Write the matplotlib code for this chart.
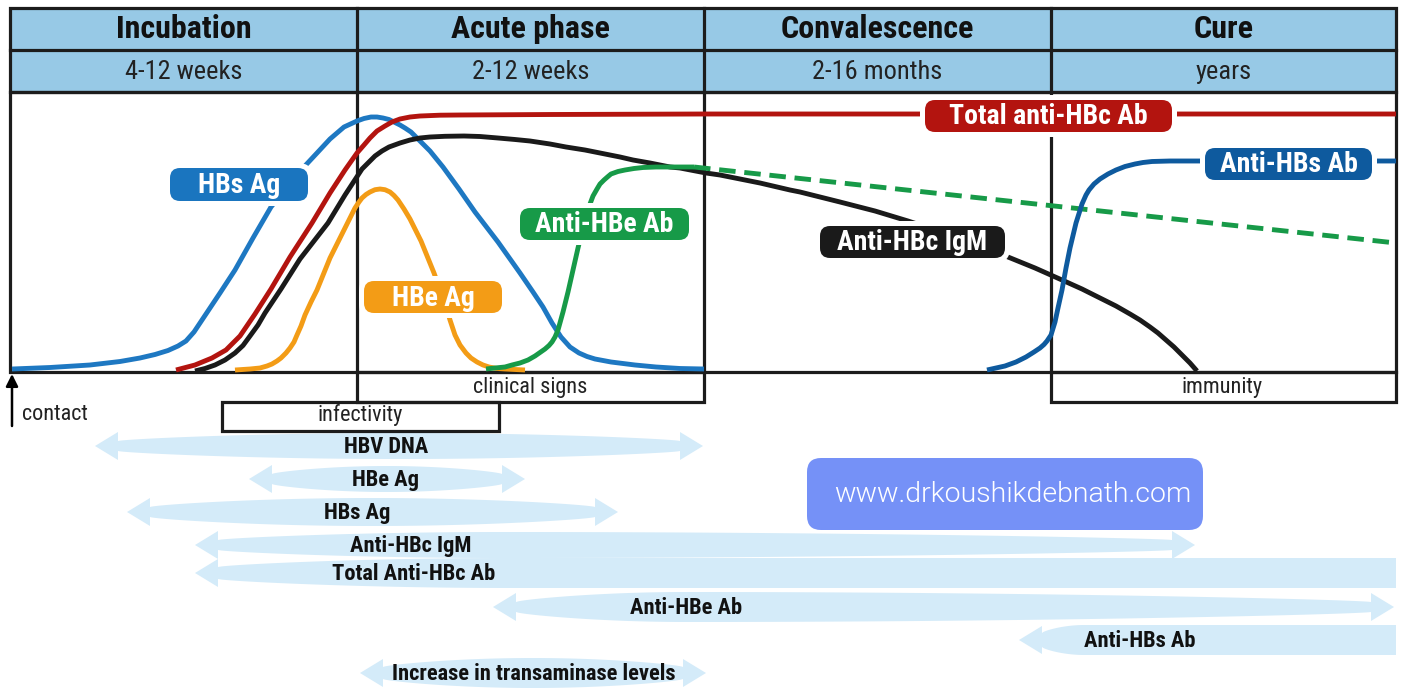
import numpy as np
import matplotlib
matplotlib.use("Agg")
import matplotlib.pyplot as plt
from matplotlib.patches import FancyBboxPatch, Polygon, Rectangle

# ---------------- data ----------------
phases = ["Incubation", "Acute phase", "Convalescence", "Cure"]
durations = ["4-12 weeks", "2-12 weeks", "2-16 months", "years"]

# marker curves: time position (px along the time axis) and level above baseline
hbsag_t = [12, 50, 90, 120, 140, 155, 168, 178, 186, 194, 204, 220, 235, 253, 271, 287, 303, 317, 330, 344, 357,
           364, 371, 377, 383, 389, 394, 400, 405, 411, 416, 423, 430, 443, 459, 475, 498, 520, 533, 543, 552,
           561, 570, 579, 587, 595, 611, 635, 656, 680, 704]
hbsag_v = [3, 4.5, 7, 10.5, 14, 17.5, 21.5, 26, 31, 40, 55, 79, 102, 134, 165, 185, 204, 219, 233, 245, 251,
           253.5, 255, 255, 254, 252.5, 250, 247, 244, 240, 235, 228, 221, 205, 183, 160, 130, 99, 80, 65, 49,
           35, 25, 19, 15.5, 13, 10, 7, 5, 3.5, 3]

total_hbc_t = [176, 195, 212, 226, 240, 255, 271, 290, 312, 330, 345, 357, 364, 370, 377, 385, 392, 400, 410, 420,
               440, 460, 550, 704, 1396]
total_hbc_v = [2, 7, 14, 22, 36, 58, 83, 115, 149, 179, 202, 219, 227, 234, 241, 246, 250, 253, 255, 256,
               256.8, 257, 257.5, 258, 258]

igm_t = [195, 205, 215, 225, 235, 243, 250, 258, 265, 281, 300, 328, 345, 362, 369, 375, 382, 389, 400, 410, 420,
         430, 445, 464, 480, 498, 515, 530, 550, 566, 585, 600, 620, 633, 650, 670, 680, 706, 720, 750, 760,
         790, 800, 840, 875, 908, 960, 1008, 1035, 1062, 1082, 1100, 1116, 1130, 1140, 1150, 1158, 1166, 1174,
         1182, 1190, 1197]
igm_v = [1, 3.5, 7, 12, 19, 26.5, 36, 47, 59, 83, 113, 149, 177, 203, 210, 216, 221, 225, 229, 232, 234,
         235, 235.7, 236, 235.5, 234, 232.5, 231, 228, 225, 222, 219, 215, 212, 209, 205, 204, 199, 197, 191,
         189, 182, 180, 170, 161, 151, 134, 115, 104, 92, 83, 74, 66, 58, 52, 45, 39, 32, 25, 17, 9, 1]

antihbe_t = [486, 495, 505, 512, 520, 528, 535, 540, 545, 549, 552, 555, 558, 563, 568, 573, 578, 584, 590, 593,
             597, 600, 604, 608, 611, 618, 625, 634, 643, 656, 670, 694]
antihbe_v = [3, 4, 5, 7, 9, 12, 16, 19.5, 23, 26.5, 30, 35, 42, 60, 80, 102, 124, 148, 168, 176,
             183, 188, 192, 195.5, 198, 200.5, 202, 203.5, 204.5, 205, 205, 205]
antihbe_late_t = [694, 1396]
antihbe_late_v = [205, 129]

hbeag_t = [235, 250, 260, 267, 272, 277, 281, 286, 290, 294, 297, 301, 305, 311, 317, 330, 344, 355, 359, 362,
           366, 370, 375, 380, 385, 390, 394, 398, 404, 410, 421, 434, 445, 450, 455, 460, 466, 471, 477,
           483, 489, 497, 505, 525]
hbeag_v = [2, 3, 4, 6, 8, 11, 14, 19, 24, 30, 37, 46, 57, 70, 82, 114, 142, 164, 170, 174,
           177.5, 180, 182.3, 183, 182.3, 180, 176.5, 172, 163, 153, 131, 99, 69, 52, 37, 27, 19, 14, 10,
           7, 5, 3.5, 3, 2]

antihbs_t = [987, 996, 1005, 1016, 1026, 1034, 1040, 1044, 1047, 1051, 1055, 1058, 1062, 1066, 1070, 1076, 1082,
             1086, 1089, 1094, 1100, 1108, 1116, 1125, 1135, 1143, 1152, 1170, 1200, 1396]
antihbs_v = [2, 4, 6, 10, 15, 20, 24, 27.5, 31, 37, 50, 64, 82, 104, 124, 149, 168, 177, 182, 188, 193, 198,
             202, 205.5, 208, 209.5, 210.5, 211, 211, 211]

# detection windows (start, end along time axis)
window_names = ["HBV DNA", "HBe Ag", "HBs Ag", "Anti-HBc IgM", "Total Anti-HBc Ab", "Anti-HBe Ab",
                "Anti-HBs Ab", "Increase in transaminase levels"]
window_start = [95, 249, 127, 195, 195, 493, 1019, 360]
window_end = [703, 525, 618, 1195, 1396, 1394, 1396, 706]
window_label_x = [386, 385, 357, 411, 414, 686, 1140, 534]

# ---------------- fonts ----------------
NARROW = ["Roboto Condensed", "DejaVu Sans"]
plt.rcParams["font.family"] = NARROW

# ---------------- figure ----------------
fig = plt.figure(figsize=(14.04, 6.98), dpi=100)
ax = fig.add_axes([0, 0, 1, 1])
ax.set_xlim(0, 1404)
ax.set_ylim(698, 0)
ax.axis("off")

FRAME = "#1c1c1c"
HEAD = "#97c9e6"
BAND = "#d4ebf9"
LWF = 2.3
BASE = 372
edges = [10, 357, 704, 1051, 1396]

# header
ax.add_patch(Rectangle((edges[0], 8), edges[-1] - edges[0], 84, fc=HEAD, ec=FRAME, lw=LWF, zorder=1))
ax.plot([edges[0], edges[-1]], [50, 50], color=FRAME, lw=LWF, zorder=1.2)
ax.add_patch(Rectangle((edges[0], 92), edges[-1] - edges[0], BASE - 92, fc="none", ec=FRAME, lw=LWF, zorder=1.2))
for x in edges[1:-1]:
    ax.plot([x, x], [8, BASE], color=FRAME, lw=LWF, zorder=1.2)
for i, (p, d) in enumerate(zip(phases, durations)):
    cx = (edges[i] + edges[i + 1]) / 2
    ax.text(cx, 29, p, ha="center", va="center", fontsize=23, fontweight="bold", color="#111111", zorder=2)
    ax.text(cx, 72, d, ha="center", va="center", fontsize=19, color="#222222", zorder=2)

# boxes below the baseline
ax.add_patch(Rectangle((357, BASE), 347, 30, fc="none", ec=FRAME, lw=LWF, zorder=1.2))
ax.add_patch(Rectangle((1051, BASE), 345, 30, fc="none", ec=FRAME, lw=LWF, zorder=1.2))
ax.add_patch(Rectangle((222, 402), 277, 29, fc="none", ec=FRAME, lw=LWF, zorder=1.2))
ax.text(530, 387, "clinical signs", ha="center", va="center", fontsize=16, color="#222222")
ax.text(1222, 387, "immunity", ha="center", va="center", fontsize=16, color="#222222")
ax.text(360, 415, "infectivity", ha="center", va="center", fontsize=16, color="#222222")
ax.annotate("", xy=(12, 374), xytext=(12, 426),
            arrowprops=dict(arrowstyle="-|>", color="black", lw=1.8, mutation_scale=18, shrinkA=0, shrinkB=0))
ax.text(22, 415, "contact", ha="left", va="center", fontsize=16, color="#222222")

# curves
LW = 3.5
def curve(t, v, color, z=3, **kw):
    ax.plot(t, [BASE - a for a in v], color=color, lw=LW, zorder=z, solid_capstyle="butt",
            solid_joinstyle="round", **kw)

curve(hbsag_t, hbsag_v, "#1e78c2", z=3.0)
curve(igm_t, igm_v, "#1a1a1a", z=3.1)
curve(total_hbc_t, total_hbc_v, "#b3140f", z=3.2)
curve(hbeag_t, hbeag_v, "#f39c16", z=3.3)
curve(antihbe_t, antihbe_v, "#179a48", z=3.4)
ax.plot(antihbe_late_t, [BASE - a for a in antihbe_late_v], color="#179a48", lw=LW, zorder=3.4,
        dashes=[3.4, 1.8], dash_capstyle="butt")
curve(antihbs_t, antihbs_v, "#0e5a9e", z=3.5)

# curve labels
def label(x0, y0, x1, y1, text, fc, pad=5, r=10):
    ax.add_patch(FancyBboxPatch((x0 - pad, y0 - pad), x1 - x0 + 2 * pad, y1 - y0 + 2 * pad,
                                boxstyle=f"round,pad=0,rounding_size={r + pad}", fc="white", ec="none", zorder=5))
    ax.add_patch(FancyBboxPatch((x0, y0), x1 - x0, y1 - y0,
                                boxstyle=f"round,pad=0,rounding_size={r}", fc=fc, ec="none", zorder=5.1))
    ax.text((x0 + x1) / 2, (y0 + y1) / 2 + 1, text, ha="center", va="center", fontsize=20,
            fontweight="bold", color="white", zorder=5.2)

label(170, 168, 308, 201, "HBs Ag", "#1a75bf")
label(925, 100, 1172, 132, "Total anti-HBc Ab", "#b3140f")
label(520, 208, 689, 240, "Anti-HBe Ab", "#179a48")
label(364, 281, 502, 313, "HBe Ag", "#f39c16")
label(820, 226, 1005, 258, "Anti-HBc IgM", "#1a1a1a")
label(1205, 148, 1372, 180, "Anti-HBs Ab", "#0e5a9e")

# detection windows as light blue arrows
rows_y = [446, 479, 512, 545, 573, 607, 640, 673]
heads = [(True, True), (True, True), (True, True), (True, True), (True, False), (True, True), (True, False),
         (True, True)]
peaks = [0.5, 0.5, 0.5, 0.3, 0.25, 0.2, 0.12, 0.5]
flat = [False, False, False, False, True, False, True, False]
hmins = [5, 5, 5, 5, 6, 5, 7, 6]
hmaxs = [13, 13, 14, 13, 15, 15, 15, 15]

def band(x0, x1, yc, lh, rh, peak, hmin, hmax, flat_right, hl=23, hw=14):
    bx0 = x0 + hl if lh else x0
    bx1 = x1 - hl if rh else x1
    xs = np.linspace(bx0, bx1, 300)
    t = (xs - bx0) / (bx1 - bx0)
    if flat_right:
        s = np.where(t < peak, t / peak, 1.0)
    else:
        s = np.where(t < peak, t / peak, (1 - t) / (1 - peak))
    h = hmin + (hmax - hmin) * np.sin(np.pi / 2 * np.clip(s, 0, 1)) ** 0.7
    pts = []
    if lh:
        pts += [(x0, yc), (bx0, yc - hw)]
    pts += list(zip(xs, yc - h))
    if rh:
        pts += [(bx1, yc - hw), (x1, yc), (bx1, yc + hw)]
    pts += list(zip(xs[::-1], (yc + h)[::-1]))
    if lh:
        pts += [(bx0, yc + hw)]
    ax.add_patch(Polygon(pts, closed=True, fc=BAND, ec="none", zorder=1))

for i, nm in enumerate(window_names):
    band(window_start[i], window_end[i], rows_y[i], heads[i][0], heads[i][1], peaks[i], hmins[i], hmaxs[i], flat[i])
    ax.text(window_label_x[i], rows_y[i] + 1, nm, ha="center", va="center", fontsize=16.2, fontweight="bold",
            color="#111111", zorder=2)

# watermark
ax.add_patch(FancyBboxPatch((807, 458), 396, 72, boxstyle="round,pad=0,rounding_size=14",
                            fc="#7591f7", ec="none", zorder=2))
ax.text(1013, 495, "www.drkoushikdebnath.com", ha="center", va="center", fontsize=20.5,
        family=["Roboto", "DejaVu Sans"], fontweight=300, color="white", zorder=3)

fig.savefig("out.png", dpi=100)
